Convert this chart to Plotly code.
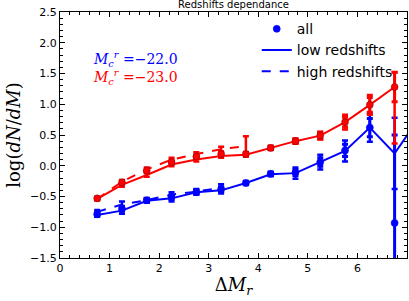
import plotly.graph_objects as go

x = [0.75, 1.25, 1.75, 2.25, 2.75, 3.25, 3.75, 4.25, 4.75, 5.25, 5.75, 6.25, 6.75]
x_low_blue = x + [7.25]
x_high_blue = x[:6]
x_high_red = x[:7]

blue_all = [-0.79, -0.70, -0.56, -0.51, -0.43, -0.38, -0.28, -0.13, -0.11, 0.06, 0.25, 0.62, -0.93]
blue_all_err = [0.03, 0.04, 0.03, 0.04, 0.03, 0.04, 0.03, 0.03, 0.05, 0.07, 0.10, 0.15, 1.43]
blue_low = [-0.80, -0.73, -0.57, -0.53, -0.43, -0.40, -0.28, -0.14, -0.12, 0.06, 0.24, 0.62, 0.20, 0.78]
blue_low_err = [0.03, 0.05, 0.03, 0.05, 0.04, 0.05, 0.03, 0.03, 0.09, 0.12, 0.17, 0.23, 0.58, 0.0]
blue_high = [-0.75, -0.63, -0.56, -0.47, -0.42, -0.36]
blue_high_err = [0.03, 0.05, 0.03, 0.04, 0.04, 0.06]

red_all = [-0.53, -0.27, -0.08, 0.06, 0.15, 0.19, 0.19, 0.29, 0.40, 0.49, 0.71, 0.99, 1.28]
red_all_err = [0.02, 0.03, 0.03, 0.03, 0.03, 0.03, 0.03, 0.03, 0.04, 0.06, 0.08, 0.12, 0.24]
red_low = [-0.54, -0.31, -0.15, 0.02, 0.10, 0.16, 0.18, 0.29, 0.40, 0.49, 0.71, 0.99, 1.28]
red_low_err_plus = [0.02, 0.03, 0.03, 0.03, 0.03, 0.03, 0.03, 0.03, 0.04, 0.06, 0.12, 0.16, 0.24]
red_low_err_minus = [0.02, 0.03, 0.03, 0.03, 0.03, 0.03, 0.03, 0.03, 0.04, 0.06, 0.12, 0.16, 0.92]
red_high = [-0.54, -0.26, -0.06, 0.10, 0.19, 0.27, 0.32]
red_high_err = [0.02, 0.03, 0.03, 0.03, 0.03, 0.04, 0.16]

BLUE = "#0000ff"
RED = "#ff0000"

fig = go.Figure()

def add(xs, ys, err, color, mode, dash, name, show, err_minus=None, ew=2.5, lw=2, msize=7):
    ed = dict(type="data", array=err, visible=True, color=color, thickness=ew, width=3)
    if err_minus is not None:
        ed["symmetric"] = False
        ed["arrayminus"] = err_minus
    fig.add_trace(go.Scatter(
        x=xs, y=ys, mode=mode, name=name, showlegend=show,
        line=dict(color=color, width=lw, dash=dash),
        marker=dict(color=color, size=msize, line=dict(color="rgba(60,0,0,0.6)" if color == RED else color, width=0.6)),
        error_y=ed,
    ))

add(x_low_blue, blue_low, blue_low_err, BLUE, "lines", "solid", "low redshifts", True)
add(x_high_blue, blue_high, blue_high_err, BLUE, "lines", "dash", "high redshifts", True)
add(x, blue_all, blue_all_err, BLUE, "markers", "solid", "all", True, ew=3)
add(x, red_low, red_low_err_plus, RED, "lines", "solid", "low redshifts", False, err_minus=red_low_err_minus)
add(x_high_red, red_high, red_high_err, RED, "lines", "dash", "high redshifts", False)
add(x, red_all, red_all_err, RED, "markers", "solid", "all", False, ew=3)

fig.data[2].legendrank = 1
fig.data[0].legendrank = 2
fig.data[1].legendrank = 3

fig.add_annotation(x=0.09, y=0.81, xref="paper", yref="paper", xanchor="left", yanchor="middle",
                   text="<i>M</i><sub><i>c</i></sub><sup><i>r</i></sup> =−22.0", showarrow=False,
                   font=dict(family="DejaVu Serif", size=14, color=BLUE))
fig.add_annotation(x=0.09, y=0.735, xref="paper", yref="paper", xanchor="left", yanchor="middle",
                   text="<i>M</i><sub><i>c</i></sub><sup><i>r</i></sup> =−23.0", showarrow=False,
                   font=dict(family="DejaVu Serif", size=14, color=RED))

axis_common = dict(
    showgrid=False, zeroline=False, showline=True, linecolor="black", linewidth=1,
    mirror="allticks", ticks="inside", ticklen=5, tickcolor="black", automargin=False,
    tickfont=dict(family="DejaVu Sans", size=11, color="black"),
)

fig.update_xaxes(range=[0, 7], dtick=1, tick0=0,
                 minor=dict(ticks="inside", dtick=0.2, ticklen=3, tickcolor="black"),
                 title=dict(text="Δ<i>M</i><sub><i>r</i></sub>", font=dict(family="DejaVu Serif", size=18, color="black"), standoff=4),
                 **axis_common)
fig.update_yaxes(range=[-1.5, 2.5], dtick=0.5, tick0=0, tickformat=".1f",
                 minor=dict(ticks="inside", dtick=0.1, ticklen=3, tickcolor="black"),
                 title=dict(text="log(<i>dN</i>/<i>dM</i>)", font=dict(family="DejaVu Serif", size=18, color="black"), standoff=4),
                 **axis_common)

fig.update_layout(
    width=409, height=301,
    margin=dict(l=60, r=2, t=12, b=43, autoexpand=False),
    paper_bgcolor="white", plot_bgcolor="white",
    title=dict(text="Redshifts dependance", x=0.5, xref="paper", xanchor="center",
               y=1.0, yref="container", yanchor="top", pad=dict(t=1),
               font=dict(family="DejaVu Sans", size=10, color="black")),
    legend=dict(x=0.567, y=0.995, xanchor="left", yanchor="top", bgcolor="rgba(0,0,0,0)",
                font=dict(family="DejaVu Sans", size=14, color="black"), tracegroupgap=0,
                itemwidth=30),
    showlegend=True,
)

fig.write_html("out.html", config={"displayModeBar": False},
               post_script="document.body.style.margin='0';document.body.style.overflow='hidden';")
